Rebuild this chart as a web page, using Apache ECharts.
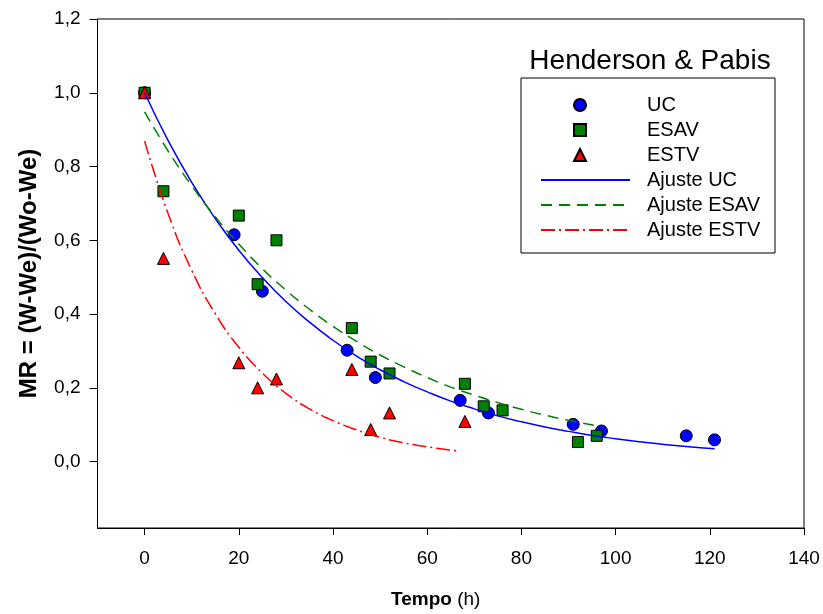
<!DOCTYPE html>
<html>
<head>
<meta charset="utf-8">
<script src="https://cdn.jsdelivr.net/npm/echarts@6/dist/echarts.min.js"></script>
<style>
  html, body { margin: 0; padding: 0; background: #fff; }
  #HendersonChart { width: 823px; height: 614px; }
</style>
</head>
<body>
<div id="HendersonChart"></div>
<script>
  // dados experimentais
  const ucTempo = [0, 19, 25, 43, 49, 67, 73, 91, 97, 115, 121];
  const ucMR = [1.0, 0.615, 0.462, 0.302, 0.228, 0.166, 0.132, 0.101, 0.083, 0.070, 0.059];

  const esavTempo = [0, 4, 20, 24, 28, 44, 48, 52, 68, 72, 76, 92, 96];
  const esavMR = [1.0, 0.733, 0.667, 0.481, 0.600, 0.362, 0.271, 0.239, 0.211, 0.150, 0.139, 0.053, 0.070];

  const estvTempo = [0, 4, 20, 24, 28, 44, 48, 52, 68];
  const estvMR = [1.0, 0.551, 0.268, 0.200, 0.224, 0.250, 0.087, 0.132, 0.109];

  // curvas de ajuste
  const ajusteUcTempo = [0, 5, 10, 15, 20, 25, 30, 35, 40, 45, 50, 55, 60, 65, 70, 75, 80, 85, 90, 95, 100, 105, 110, 115, 121];
  const ajusteUcMR = [1.0, 0.870, 0.757, 0.659, 0.573, 0.499, 0.434, 0.378, 0.329, 0.286, 0.249, 0.217, 0.189, 0.164, 0.143, 0.124, 0.108, 0.094, 0.082, 0.071, 0.062, 0.054, 0.047, 0.041, 0.035];

  const ajusteEsavTempo = [0, 5, 10, 15, 20, 25, 30, 35, 40, 45, 50, 55, 60, 65, 70, 75, 80, 85, 90, 96];
  const ajusteEsavMR = [0.948, 0.842, 0.748, 0.664, 0.590, 0.523, 0.465, 0.413, 0.367, 0.326, 0.289, 0.257, 0.228, 0.202, 0.180, 0.160, 0.142, 0.126, 0.112, 0.097];

  const ajusteEstvTempo = [0, 5, 10, 15, 20, 25, 30, 35, 40, 45, 50, 55, 60, 67];
  const ajusteEstvMR = [0.869, 0.672, 0.519, 0.401, 0.310, 0.240, 0.185, 0.143, 0.111, 0.086, 0.066, 0.051, 0.040, 0.028];

  // ticks
  const xTicks = [0, 20, 40, 60, 80, 100, 120, 140];
  const yTicks = [0, 0.2, 0.4, 0.6, 0.8, 1.0, 1.2];

  const fonte = 'Liberation Sans, Arial, Helvetica, sans-serif';

  function pares(xs, ys) {
    return xs.map(function (x, i) { return [x, ys[i]]; });
  }

  let myChart = echarts.init(document.getElementById('HendersonChart'), null, {renderer: 'canvas'});

  myChart.setOption({
    animation: false,
    backgroundColor: '#fff',
    textStyle: {fontFamily: fonte},
    grid: {
      left: 97.5,
      right: 19,
      top: 19,
      bottom: 86,
      show: true,
      borderColor: '#000',
      borderWidth: 1,
      outerBoundsMode: 'none'
    },
    xAxis: {
      type: 'value',
      min: -10,
      max: 140,
      name: '{b|Tempo} (h)',
      nameLocation: 'middle',
      nameGap: 62,
      nameTextStyle: {
        fontSize: 19,
        color: '#000',
        fontFamily: fonte,
        padding: [0, 30, 0, 0],
        rich: {b: {fontSize: 19, fontWeight: 'bold', color: '#000', fontFamily: fonte}}
      },
      axisLine: {show: true, onZero: false, lineStyle: {color: '#000', width: 1}},
      axisTick: {show: true, inside: false, length: 7, customValues: xTicks, lineStyle: {color: '#000'}},
      axisLabel: {customValues: xTicks, margin: 21, fontSize: 19, color: '#000', fontFamily: fonte},
      splitLine: {show: false}
    },
    yAxis: {
      type: 'value',
      min: -0.18,
      max: 1.2,
      name: 'MR = (W-We)/(Wo-We)',
      nameLocation: 'middle',
      nameRotate: 90,
      nameGap: 56,
      nameTextStyle: {fontSize: 24, fontWeight: 'bold', color: '#000', fontFamily: fonte},
      axisLine: {show: true, onZero: false, lineStyle: {color: '#000', width: 1}},
      axisTick: {show: true, inside: false, length: 8, customValues: yTicks, lineStyle: {color: '#000'}},
      axisLabel: {
        customValues: yTicks,
        margin: 17,
        fontSize: 19,
        color: '#000',
        fontFamily: fonte,
        formatter: function (v) { return v.toFixed(1).replace('.', ','); }
      },
      splitLine: {show: false}
    },
    legend: [
      {
        // pontos
        orient: 'vertical',
        left: 568,
        top: 90,
        itemWidth: 12,
        itemHeight: 12,
        itemGap: 5,
        textStyle: {fontSize: 20, color: '#000', fontFamily: fonte, padding: [0, 0, 0, 56]},
        data: ['UC', 'ESAV', 'ESTV']
      },
      {
        // linhas de ajuste
        orient: 'vertical',
        left: 535,
        top: 165,
        itemWidth: 89,
        itemHeight: 12,
        itemGap: 5,
        itemStyle: {opacity: 0},
        textStyle: {fontSize: 20, color: '#000', fontFamily: fonte, padding: [0, 0, 0, 12]},
        data: ['Ajuste UC', 'Ajuste ESAV', 'Ajuste ESTV']
      }
    ],
    graphic: [
      {
        type: 'rect',
        shape: {x: 521, y: 78, width: 254, height: 175},
        style: {fill: 'none', stroke: '#000', lineWidth: 1}
      },
      {
        type: 'text',
        x: 650,
        y: 61,
        style: {
          text: 'Henderson & Pabis',
          fontSize: 28,
          fontFamily: fonte,
          fill: '#000',
          textAlign: 'center',
          textVerticalAlign: 'middle'
        }
      }
    ],
    series: [
      {
        name: 'UC',
        type: 'scatter',
        symbol: 'circle',
        symbolSize: 12,
        itemStyle: {color: '#0000ff', borderColor: '#000', borderWidth: 1, opacity: 1},
        data: pares(ucTempo, ucMR)
      },
      {
        name: 'ESAV',
        type: 'scatter',
        symbol: 'rect',
        symbolSize: 11,
        itemStyle: {color: '#008000', borderColor: '#000', borderWidth: 1, opacity: 1},
        data: pares(esavTempo, esavMR)
      },
      {
        name: 'ESTV',
        type: 'scatter',
        symbol: 'triangle',
        symbolSize: 12,
        itemStyle: {color: '#ff0000', borderColor: '#000', borderWidth: 1, opacity: 1},
        data: pares(estvTempo, estvMR)
      },
      {
        name: 'Ajuste UC',
        type: 'line',
        smooth: true,
        symbol: 'none',
        lineStyle: {color: '#0000ff', width: 1.5, type: 'solid'},
        itemStyle: {color: '#0000ff'},
        data: pares(ajusteUcTempo, ajusteUcMR)
      },
      {
        name: 'Ajuste ESAV',
        type: 'line',
        smooth: true,
        symbol: 'none',
        lineStyle: {color: '#008000', width: 1.5, type: [11, 7]},
        itemStyle: {color: '#008000'},
        data: pares(ajusteEsavTempo, ajusteEsavMR)
      },
      {
        name: 'Ajuste ESTV',
        type: 'line',
        smooth: true,
        symbol: 'none',
        lineStyle: {color: '#ff0000', width: 1.5, type: [14, 4, 2, 4]},
        itemStyle: {color: '#ff0000'},
        data: pares(ajusteEstvTempo, ajusteEstvMR)
      }
    ]
  });
</script>
</body>
</html>
